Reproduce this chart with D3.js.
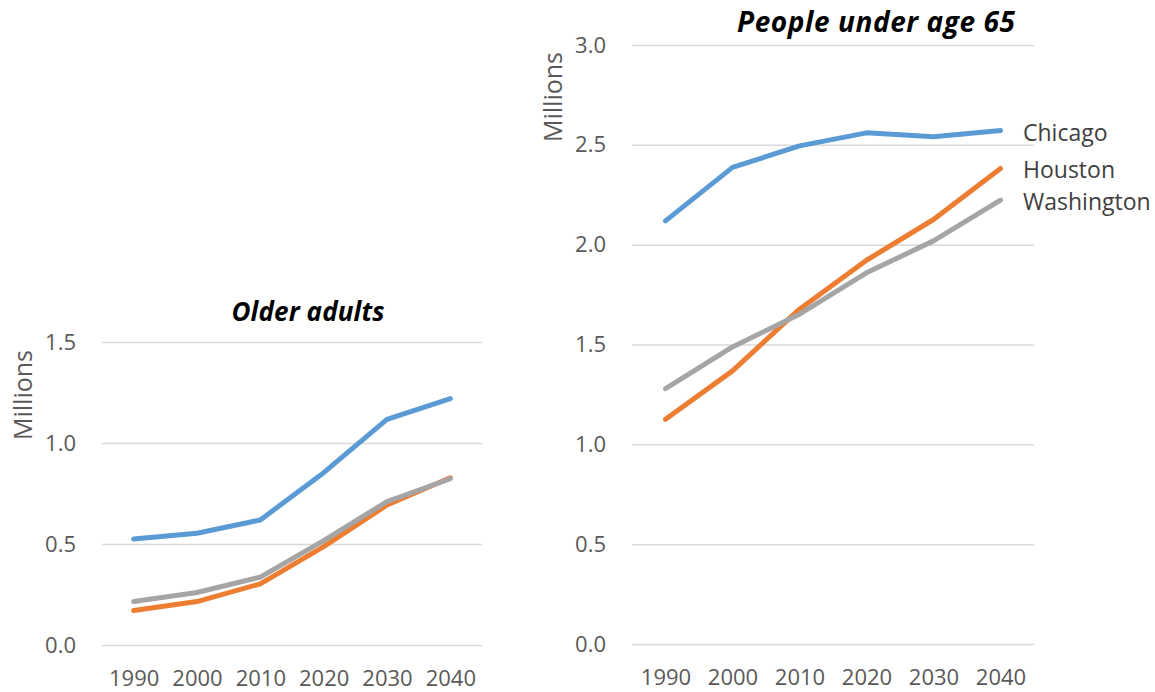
<!DOCTYPE html>
<html>
<head>
<meta charset="utf-8">
<script src="https://cdn.jsdelivr.net/npm/d3@7"></script>
<style>
  body { margin: 0; background: #fff; }
  text { font-family: "Open Sans", "Noto Sans", sans-serif; }
</style>
</head>
<body>
<svg id="chart" width="1155" height="692"></svg>
<script>
// data (millions)
const years = ["1990", "2000", "2010", "2020", "2030", "2040"];
const cities = ["Chicago", "Houston", "Washington"];
const colors = ["#5B9BD5", "#ED7D31", "#A5A5A5"];

const olderChicago = [0.525, 0.553, 0.619, 0.853, 1.117, 1.220];
const olderHouston = [0.171, 0.215, 0.303, 0.487, 0.693, 0.828];
const olderWashington = [0.215, 0.260, 0.336, 0.517, 0.710, 0.823];

const youngChicago = [2.119, 2.387, 2.495, 2.560, 2.540, 2.572];
const youngHouston = [1.126, 1.368, 1.677, 1.922, 2.126, 2.382];
const youngWashington = [1.279, 1.488, 1.652, 1.859, 2.019, 2.223];

const olderTicks = [0, 0.5, 1.0, 1.5];
const youngTicks = [0, 0.5, 1.0, 1.5, 2.0, 2.5, 3.0];

const svg = d3.select('#chart');

function panel(cfg) {
  const g = svg.append('g');

  const x = d3.scalePoint()
    .domain(years)
    .range([cfg.left, cfg.right])
    .padding(0.5);

  const y = d3.scaleLinear()
    .domain([0, cfg.max])
    .range([cfg.bottom, cfg.top]);

  // gridlines + y labels
  const yAxis = g.append('g')
    .attr('transform', `translate(${cfg.left},0)`)
    .call(d3.axisLeft(y)
      .tickValues(cfg.ticks)
      .tickFormat(d3.format('.1f'))
      .tickSize(-(cfg.right - cfg.left))
      .tickPadding(26));
  yAxis.select('.domain').remove();
  yAxis.selectAll('line').attr('stroke', '#D9D9D9').attr('stroke-width', 1.5);
  yAxis.selectAll('text')
    .attr('fill', '#595959')
    .style('font-size', '22px');

  // x labels
  const xAxis = g.append('g')
    .attr('transform', `translate(0,${cfg.bottom})`)
    .call(d3.axisBottom(x).tickSize(0).tickPadding(25));
  xAxis.select('.domain').remove();
  xAxis.selectAll('text')
    .attr('fill', '#595959')
    .style('font-size', '22px');

  // y title
  g.append('text')
    .attr('transform', `translate(${cfg.ylabX},${cfg.ylabY}) rotate(-90)`)
    .attr('text-anchor', 'middle')
    .attr('dy', '0.35em')
    .attr('fill', '#595959')
    .attr('textLength', 90)
    .style('font-size', '25px')
    .text('Millions');

  // chart title
  g.append('text')
    .attr('x', cfg.titleX)
    .attr('y', cfg.titleY)
    .attr('text-anchor', 'middle')
    .attr('dy', '0.35em')
    .attr('textLength', cfg.titleW)
    .style('font-size', cfg.titleSize + 'px')
    .style('font-weight', 'bold')
    .style('font-style', 'italic')
    .attr('fill', '#000')
    .text(cfg.title);

  const line = d3.line()
    .x((d, i) => x(years[i]))
    .y(d => y(d));

  cfg.series.forEach((s, k) => {
    g.append('path')
      .datum(s)
      .attr('d', line)
      .attr('fill', 'none')
      .attr('stroke', colors[k])
      .attr('stroke-width', 5)
      .attr('stroke-linejoin', 'round')
      .attr('stroke-linecap', 'round');
  });

  return { x, y };
}

panel({
  left: 102, right: 482, top: 342, bottom: 645, max: 1.5,
  ticks: olderTicks,
  series: [olderChicago, olderHouston, olderWashington],
  title: 'Older adults', titleX: 308, titleY: 312, titleW: 153, titleSize: 26,
  ylabX: 23, ylabY: 395
});

const right = panel({
  left: 632, right: 1034, top: 45, bottom: 644, max: 3.0,
  ticks: youngTicks,
  series: [youngChicago, youngHouston, youngWashington],
  title: 'People under age 65', titleX: 876, titleY: 22, titleW: 278, titleSize: 28,
  ylabX: 553, ylabY: 97
});

// end labels on the right panel
const labelY = [2.572, 2.382, 2.223].map(v => right.y(v) + 2);
svg.selectAll('.city')
  .data(cities)
  .enter()
  .append('text')
  .attr('class', 'city')
  .attr('x', 1023)
  .attr('y', (d, i) => labelY[i])
  .attr('dy', '0.35em')
  .attr('fill', '#404040')
  .style('font-size', '23px')
  .text(d => d);
</script>
</body>
</html>
